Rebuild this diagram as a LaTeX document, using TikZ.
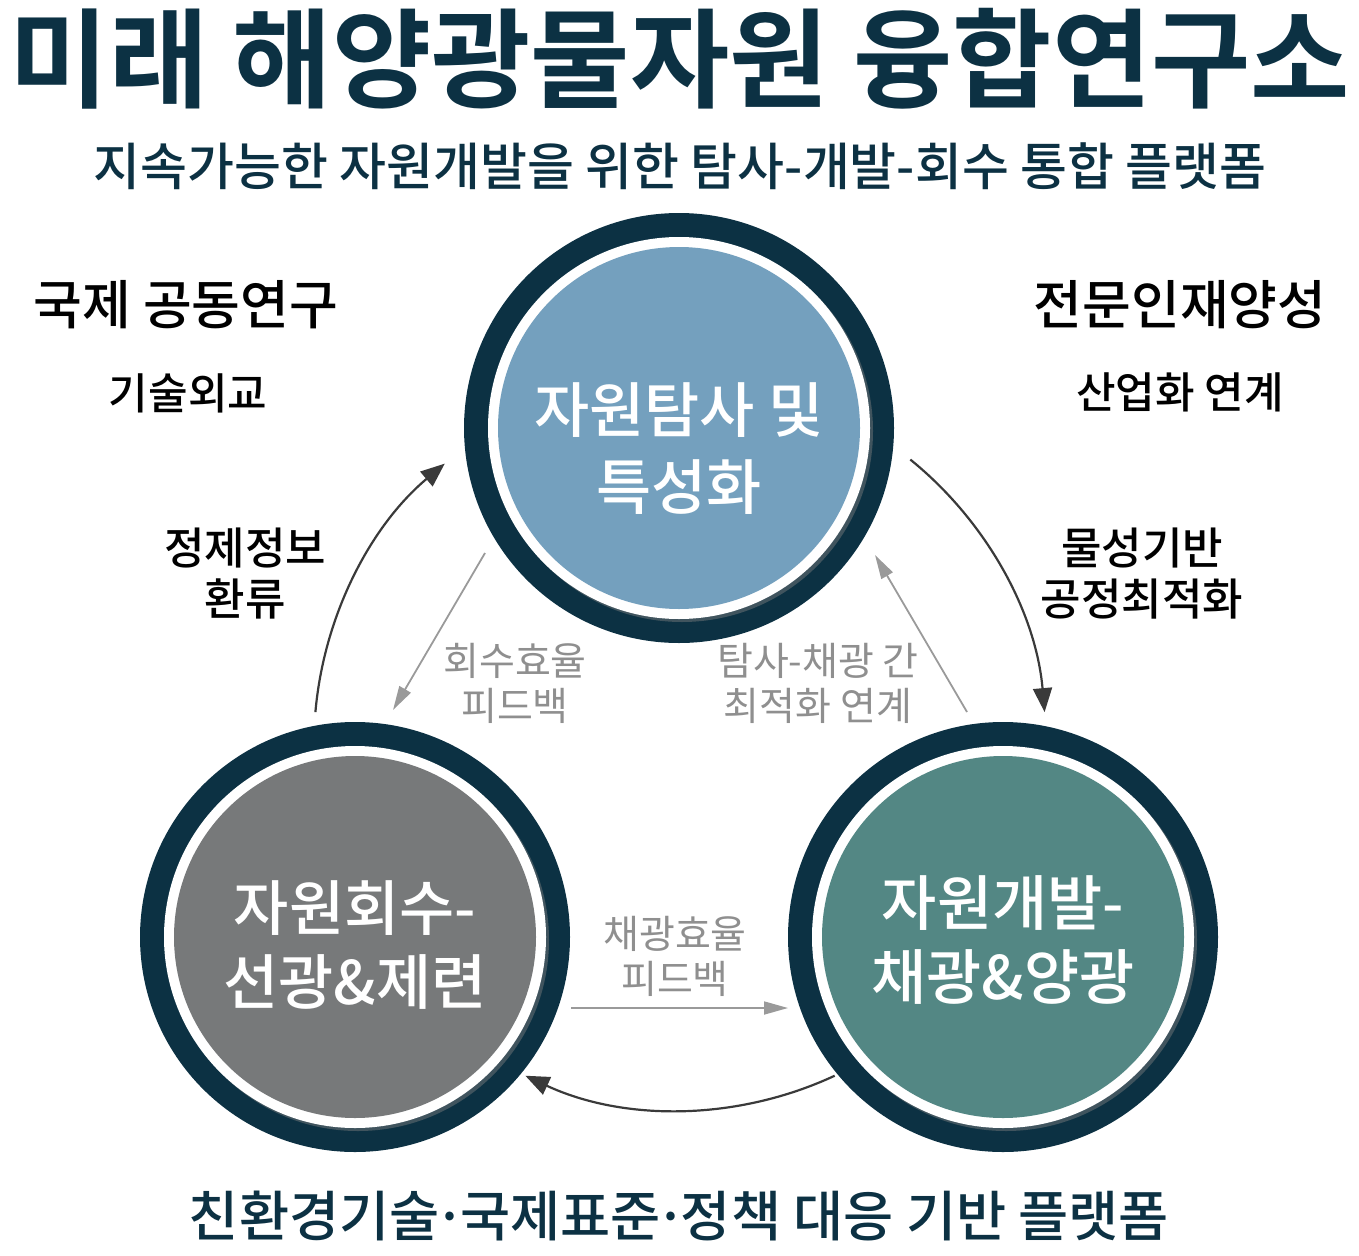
\documentclass[tikz,border=0pt]{standalone}
\usepackage{fontspec}
\usetikzlibrary{arrows.meta,shadows,calc}
\newfontfamily\krR{Noto Sans CJK KR}
\newfontfamily\krM{Noto Sans CJK KR Medium}
\newfontfamily\krB{Noto Sans CJK KR Bold}
\definecolor{navy}{HTML}{0C3143}
\definecolor{topfill}{HTML}{74A0BE}
\definecolor{grayfill}{HTML}{77797A}
\definecolor{tealfill}{HTML}{538784}
\definecolor{graytext}{HTML}{8F8F8F}
\definecolor{darkarrow}{HTML}{3A3A3A}
\definecolor{grayarrow}{HTML}{9A9A9A}
\newcommand{\tightdot}{\kern-0.1em·\kern-0.1em}
\tikzset{
  ring/.style={fill=navy},
  whitering/.style={fill=white, drop shadow={shadow xshift=3pt, shadow yshift=-3pt, opacity=0.45}},
  core/.style={circle, minimum size=362pt, inner sep=0pt},
  coretext/.style={inner sep=0pt, align=center, text=white, font=\krM\fontsize{60}{74}\selectfont},
  label/.style={inner sep=0pt, align=center, text=black, font=\krM\fontsize{44}{51}\selectfont},
  smalllabel/.style={inner sep=0pt, align=center, text=black, font=\krM\fontsize{43}{43}\selectfont},
  biglabel/.style={inner sep=0pt, align=center, text=black, font=\krM\fontsize{53}{56}\selectfont},
  graylabel/.style={inner sep=0pt, align=center, text=graytext, font=\krR\fontsize{39}{45}\selectfont},
  cyclearrow/.style={draw=darkarrow, line width=2.2pt, -{Triangle[length=24pt,width=19pt]}},
  feedarrow/.style={draw=grayarrow, line width=1.8pt, -{Triangle[length=24pt,width=13pt]}}
}
\begin{document}
\begin{tikzpicture}[x=1pt,y=-1pt]
\useasboundingbox (0,0) rectangle (1359,1255);
% title
\node[inner sep=0pt, text=navy, font=\krB\fontsize{108}{108}\selectfont] (title) at (680,59) {미래 해양광물자원 융합연구소};
\node[inner sep=0pt, text=navy, font=\krM\fontsize{51}{51}\selectfont] (subtitle) at (680,166) {지속가능한 자원개발을 위한 탐사-개발-회수 통합 플랫폼};
% circles
\fill[ring] (679,428) circle (215pt);
\fill[whitering] (679,428) circle (191pt);
\node[core, fill=topfill] (explore) at (679,428) {};
\node[coretext, font=\krM\fontsize{60}{77}\selectfont] (exploretext) at (679,449) {자원탐사 및\\특성화};

\fill[ring] (355,937) circle (215pt);
\fill[whitering] (355,937) circle (191pt);
\node[core, fill=grayfill] (recover) at (355,937) {};
\node[coretext] (recovertext) at (355,945) {자원회수-\\선광\&제련};

\fill[ring] (1003,937) circle (215pt);
\fill[whitering] (1003,937) circle (191pt);
\node[core, fill=tealfill] (develop) at (1003,937) {};
\node[coretext] (developtext) at (1003,940) {자원개발-\\채광\&양광};

% side labels
\node[biglabel] (intl) at (186,305) {국제 공동연구};
\node[smalllabel] (diplo) at (188,393) {기술외교};
\node[biglabel] (talent) at (1180,305) {전문인재양성};
\node[smalllabel] (industry) at (1180,392) {산업화 연계};
\node[label] (refine) at (245,574) {정제정보\\환류};
\node[label] (process) at (1142,574) {물성기반\\공정최적화};

% gray labels
\node[graylabel] (recfb) at (515,683) {회수효율\\피드백};
\node[graylabel] (explink) at (818,683) {탐사-채광 간\\최적화 연계};
\node[graylabel] (minfb) at (675,956) {채광효율\\피드백};

% bottom
\node[inner sep=0pt, text=navy, font=\krM\fontsize{54.5}{54.5}\selectfont] (footer) at (679,1216) {친환경기술\tightdot 국제표준\tightdot 정책 대응 기반 플랫폼};

% cycle arrows (arc of circle centred at (680,744), radius 366)
\coordinate (cyc) at (680,744);
\coordinate (a1) at ($(cyc)+(175:366pt)$);
\coordinate (a2) at ($(cyc)+(51:366pt)$);
\coordinate (a3) at ($(cyc)+(-65:366pt)$);
\draw[cyclearrow] (a1) arc[start angle=175, end angle=130, radius=366pt];
\draw[cyclearrow] (a2) arc[start angle=51, end angle=5, radius=366pt];
\draw[cyclearrow] (a3) arc[start angle=-65, end angle=-115, radius=366pt];

% feedback arrows
\coordinate (f1s) at (485,553);
\coordinate (f1e) at (393,710);
\coordinate (f2s) at (967,712);
\coordinate (f2e) at (875,555);
\coordinate (f3s) at (571,1008);
\coordinate (f3e) at (788,1008);
\draw[feedarrow] (f1s) -- (f1e);
\draw[feedarrow] (f2s) -- (f2e);
\draw[feedarrow] (f3s) -- (f3e);
\end{tikzpicture}
\end{document}
